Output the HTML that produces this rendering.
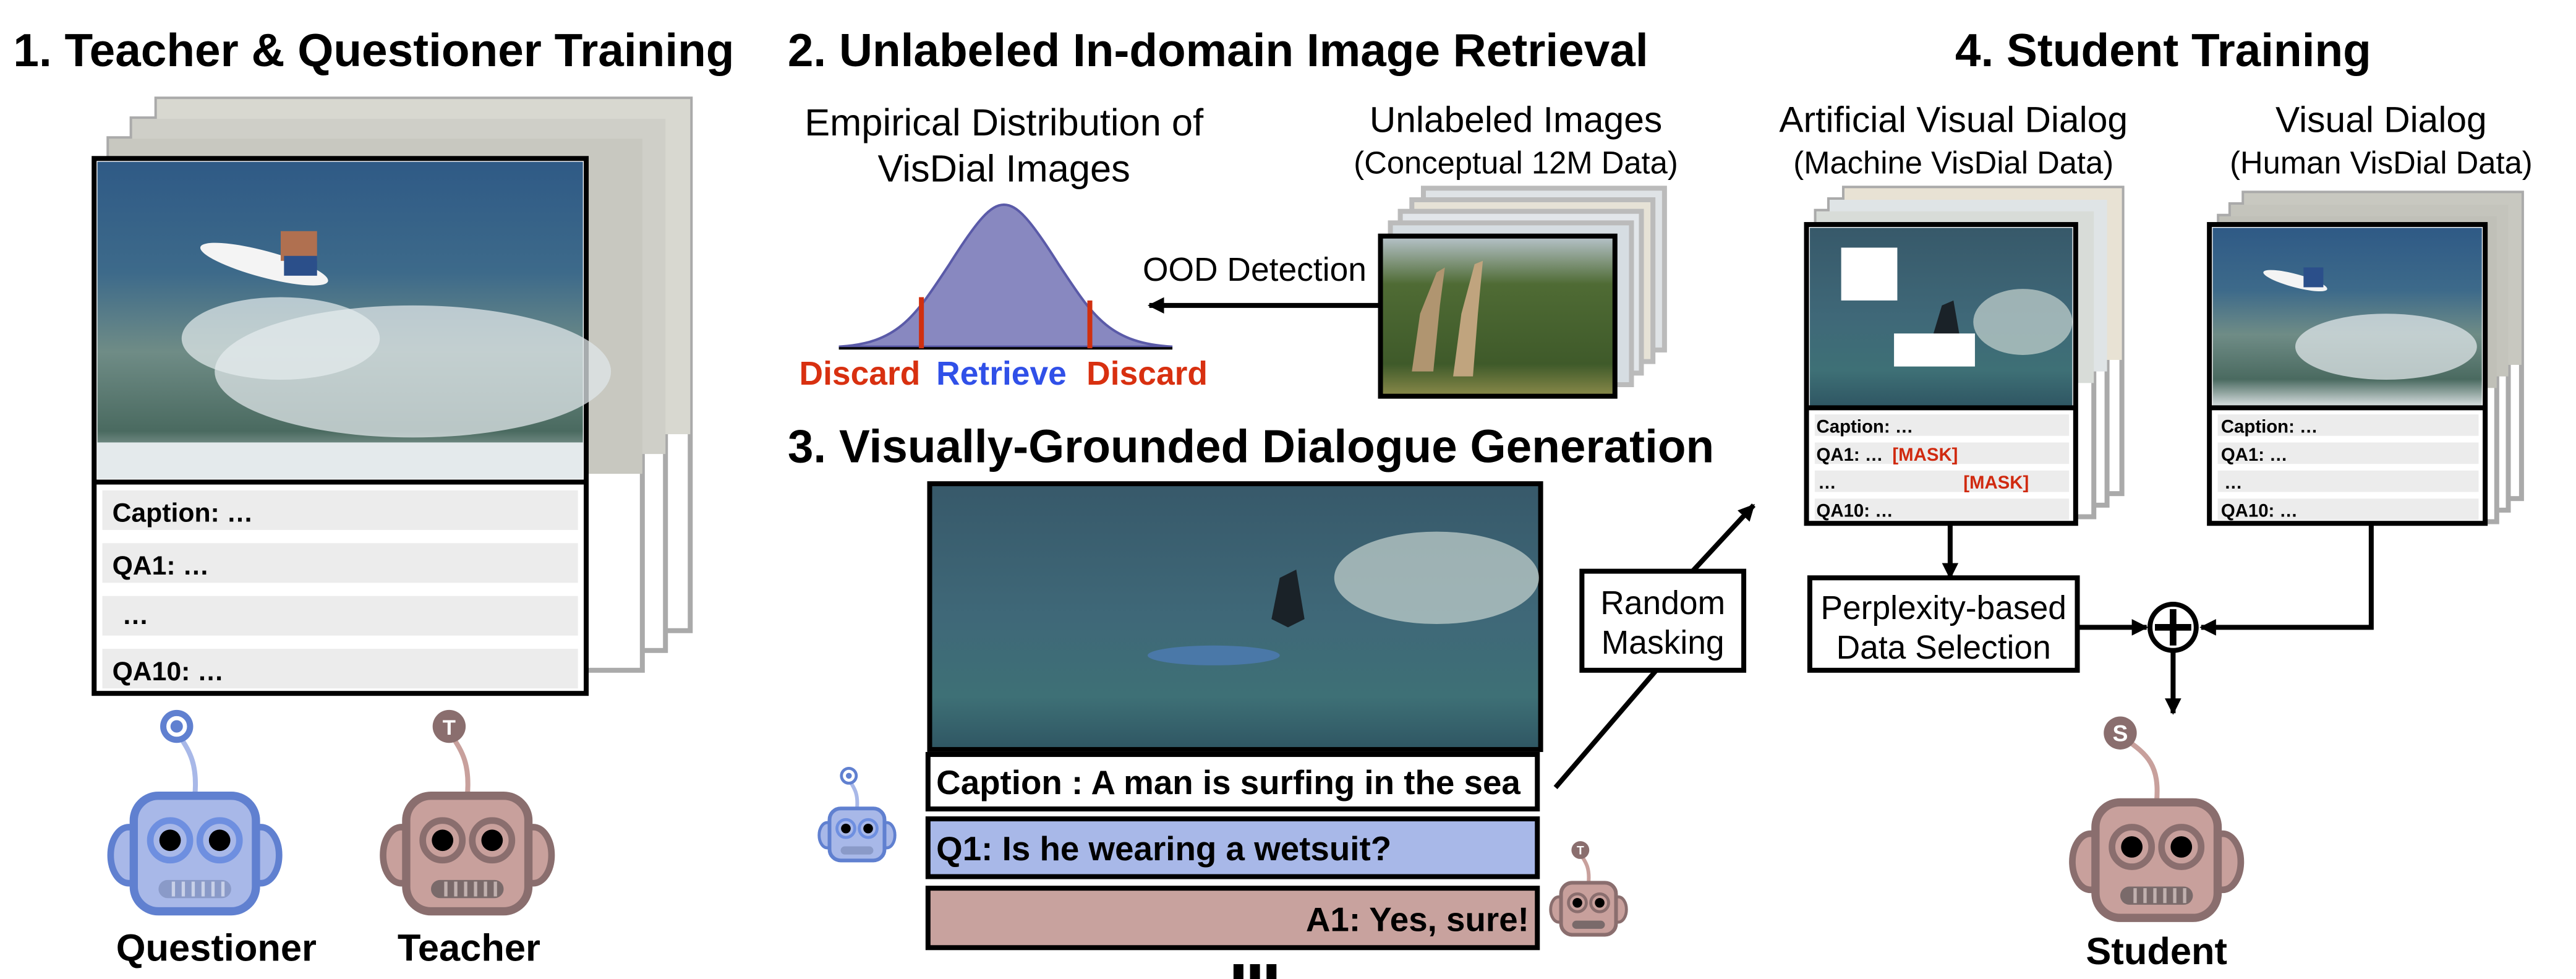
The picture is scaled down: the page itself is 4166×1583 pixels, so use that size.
<!DOCTYPE html>
<html><head><meta charset="utf-8"><style>
html,body{margin:0;padding:0;background:#fff;}
svg{display:block;}
text{font-family:"Liberation Sans",Arial,sans-serif;}
.b{font-weight:bold;}
</style></head><body>
<svg width="4166" height="1583" viewBox="0 0 1560 593" preserveAspectRatio="none" xmlns="http://www.w3.org/2000/svg">
<defs>
<linearGradient id="sea1" x1="0" y1="0" x2="0" y2="1">
<stop offset="0" stop-color="#2f5a86"/><stop offset="0.35" stop-color="#3d6a8a"/><stop offset="0.6" stop-color="#6f8c86"/><stop offset="0.85" stop-color="#4a6a60"/><stop offset="1" stop-color="#d8dfe0"/>
</linearGradient>
<linearGradient id="sea2" x1="0" y1="0" x2="0" y2="1">
<stop offset="0" stop-color="#37596a"/><stop offset="0.5" stop-color="#3f6878"/><stop offset="0.8" stop-color="#3e7076"/><stop offset="1" stop-color="#2f5663"/>
</linearGradient>
<linearGradient id="gir" x1="0" y1="0" x2="0" y2="1">
<stop offset="0" stop-color="#b8c4cc"/><stop offset="0.3" stop-color="#4f6b34"/><stop offset="0.8" stop-color="#3f5a2a"/><stop offset="1" stop-color="#8a8a4a"/>
</linearGradient>
<marker id="ah" markerWidth="10" markerHeight="10" refX="9" refY="5" orient="auto" markerUnits="userSpaceOnUse">
<path d="M0,0 L10,5 L0,10 z" fill="#000"/></marker>
<g id="robot">
<ellipse cx="-40" cy="2" rx="11" ry="17" stroke-width="4"/>
<ellipse cx="40" cy="2" rx="11" ry="17" stroke-width="4"/>
<rect x="-37" y="-34" width="74" height="70" rx="15" stroke-width="5"/>
</g>
</defs>

<!-- Section 1 -->
<text x="8" y="40" class="b" font-size="28">1. Teacher &amp; Questioner Training</text>
<rect x="95" y="60" width="323" height="322" fill="#fff" stroke="#aaa" stroke-width="3"/>
<rect x="80" y="72" width="323" height="322" fill="#fff" stroke="#aaa" stroke-width="3"/>
<rect x="66" y="84" width="323" height="322" fill="#fff" stroke="#aaa" stroke-width="3"/>
<rect x="95" y="60" width="323" height="203" fill="#d8d8d0"/>
<rect x="80" y="72" width="323" height="203" fill="#cfcfc8"/>
<rect x="66" y="84" width="323" height="203" fill="#c8c8c0"/>
<rect x="57" y="96" width="298" height="324" fill="#fff" stroke="#000" stroke-width="3"/>
<rect x="59" y="98" width="294" height="192" fill="url(#sea1)"/>
<ellipse cx="250" cy="225" rx="120" ry="40" fill="#dfe6e8" opacity="0.75"/>
<ellipse cx="170" cy="205" rx="60" ry="25" fill="#e6ecee" opacity="0.7"/>
<ellipse cx="160" cy="160" rx="40" ry="8" fill="#f4f4f4" transform="rotate(15 160 160)"/>
<rect x="170" y="140" width="22" height="18" fill="#b07050"/>
<rect x="172" y="155" width="20" height="12" fill="#2b4f8a"/>
<rect x="59" y="268" width="294" height="22" fill="#e4eaec"/>
<line x1="57" y1="292" x2="355" y2="292" stroke="#000" stroke-width="3"/>
<rect x="62" y="297" width="288" height="24" fill="#ececec"/>
<rect x="62" y="329" width="288" height="24" fill="#ececec"/>
<rect x="62" y="361" width="288" height="24" fill="#ececec"/>
<rect x="62" y="393" width="288" height="24" fill="#ececec"/>
<text x="68" y="316" class="b" font-size="16">Caption: …</text>
<text x="68" y="348" class="b" font-size="16">QA1: …</text>
<text x="74" y="378" class="b" font-size="16">…</text>
<text x="68" y="412" class="b" font-size="16">QA10: …</text>

<!-- Questioner robot -->
<g transform="translate(118,516)">
<path d="M0,-34 C2,-56 -5,-63 -11,-73" fill="none" stroke="#a8b8e8" stroke-width="3"/>
<circle cx="-11" cy="-76" r="10" fill="#6080d0"/><circle cx="-11" cy="-76" r="5" fill="none" stroke="#fff" stroke-width="2.5"/>
<use href="#robot" fill="#a8b8e8" stroke="#6080d0"/>
<circle cx="-15" cy="-7" r="12" fill="none" stroke="#6e8fe0" stroke-width="4"/><circle cx="-15" cy="-7" r="6.5" fill="#000"/>
<circle cx="15" cy="-7" r="12" fill="none" stroke="#6e8fe0" stroke-width="4"/><circle cx="15" cy="-7" r="6.5" fill="#000"/>
<rect x="-22" y="17" width="44" height="11" rx="5.5" fill="#8a9ac8"/>
<path d="M-13,18v9M-7,18v9M-1,18v9M5,18v9M11,18v9M17,18v9" stroke="#c8d0e8" stroke-width="2"/>
</g>
<text x="131" y="582" class="b" font-size="23" text-anchor="middle">Questioner</text>
<!-- Teacher robot -->
<g transform="translate(283,516)">
<path d="M0,-34 C2,-56 -5,-63 -11,-73" fill="none" stroke="#c8a09c" stroke-width="3"/>
<circle cx="-11" cy="-76" r="10" fill="#8a6e6e"/><text x="-11" y="-71" font-size="13" class="b" fill="#fff" text-anchor="middle">T</text>
<use href="#robot" fill="#c8a09c" stroke="#8a6e6e"/>
<circle cx="-15" cy="-7" r="12" fill="none" stroke="#8a6e6e" stroke-width="4"/><circle cx="-15" cy="-7" r="6.5" fill="#000"/>
<circle cx="15" cy="-7" r="12" fill="none" stroke="#8a6e6e" stroke-width="4"/><circle cx="15" cy="-7" r="6.5" fill="#000"/>
<rect x="-22" y="17" width="44" height="11" rx="5.5" fill="#7a6a6a"/>
<path d="M-13,18v9M-7,18v9M-1,18v9M5,18v9M11,18v9M17,18v9" stroke="#c0b0ae" stroke-width="2"/>
</g>
<text x="284" y="582" class="b" font-size="23" text-anchor="middle">Teacher</text>

<!-- Section 2 -->
<text x="477" y="40" class="b" font-size="28">2. Unlabeled In-domain Image Retrieval</text>
<text x="608" y="82" font-size="23" text-anchor="middle">Empirical Distribution of</text>
<text x="608" y="110" font-size="23" text-anchor="middle">VisDial Images</text>
<path d="M508,210 C545,208 555,190 575,160 C592,133 600,124 608,124 C616,124 624,133 641,160 C661,190 671,208 710,210 Z" fill="#8888c0" stroke="#5a5aa8" stroke-width="1.5"/>
<line x1="508" y1="211" x2="710" y2="211" stroke="#000" stroke-width="1.5"/>
<line x1="558" y1="180" x2="558" y2="211" stroke="#d03010" stroke-width="3"/>
<line x1="660" y1="182" x2="660" y2="211" stroke="#d03010" stroke-width="3"/>
<text x="484" y="233" class="b" font-size="20" fill="#d83010">Discard</text>
<text x="567" y="233" class="b" font-size="20" fill="#3050e8">Retrieve</text>
<text x="658" y="233" class="b" font-size="20" fill="#d83010">Discard</text>
<text x="692" y="170" font-size="20">OOD Detection</text>
<line x1="835" y1="185" x2="696" y2="185" stroke="#000" stroke-width="3" marker-end="url(#ah)"/>
<text x="918" y="80" font-size="22" text-anchor="middle">Unlabeled Images</text>
<text x="918" y="105" font-size="19" text-anchor="middle">(Conceptual 12M Data)</text>
<rect x="862" y="114" width="146" height="98" fill="#dfe3e6" stroke="#bbb" stroke-width="3"/>
<rect x="855" y="121" width="146" height="98" fill="#e6e2d6" stroke="#bbb" stroke-width="3"/>
<rect x="848" y="128" width="146" height="98" fill="#e2e6ea" stroke="#bbb" stroke-width="3"/>
<rect x="842" y="135" width="146" height="98" fill="#d6dde2" stroke="#bbb" stroke-width="3"/>
<rect x="836" y="143" width="142" height="97" fill="url(#gir)" stroke="#000" stroke-width="3"/>
<path d="M855,225 L860,190 L870,165 L875,162 L872,185 L868,225Z" fill="#b09570"/>
<path d="M880,228 L885,190 L893,160 L898,158 L895,190 L892,228Z" fill="#c0a47e"/>

<!-- Section 3 -->
<text x="477" y="280" class="b" font-size="28">3. Visually-Grounded Dialogue Generation</text>
<rect x="563" y="293" width="370" height="161" fill="url(#sea2)" stroke="#000" stroke-width="3"/>
<ellipse cx="870" cy="350" rx="62" ry="28" fill="#c8d4d0" opacity="0.7"/>
<path d="M770,375 L775,350 L785,345 L790,375 L780,380Z" fill="#1a2228"/>
<ellipse cx="735" cy="397" rx="40" ry="6" fill="#4a78a8"/>
<rect x="562" y="457" width="369" height="33" fill="#fff" stroke="#000" stroke-width="3"/>
<text x="567" y="481" class="b" font-size="20.5">Caption : A man is surfing in the sea</text>
<rect x="562" y="496" width="369" height="35" fill="#a8b8e8" stroke="#000" stroke-width="3"/>
<text x="567" y="521" class="b" font-size="20.5">Q1: Is he wearing a wetsuit?</text>
<rect x="562" y="538" width="369" height="36" fill="#c8a29e" stroke="#000" stroke-width="3"/>
<text x="926" y="564" class="b" font-size="20.5" text-anchor="end">A1: Yes, sure!</text>
<rect x="747" y="584" width="6" height="9" fill="#000"/><rect x="757" y="584" width="6" height="9" fill="#000"/><rect x="767" y="584" width="6" height="9" fill="#000"/>
<!-- small Q robot -->
<g transform="translate(519,505) scale(0.45)">
<path d="M0,-34 C2,-56 -5,-63 -11,-73" fill="none" stroke="#a8b8e8" stroke-width="5"/>
<circle cx="-11" cy="-78" r="12" fill="#6080d0"/><circle cx="-11" cy="-78" r="6" fill="none" stroke="#fff" stroke-width="4"/>
<use href="#robot" fill="#a8b8e8" stroke="#6080d0"/>
<circle cx="-15" cy="-7" r="12" fill="none" stroke="#6e8fe0" stroke-width="4"/><circle cx="-15" cy="-7" r="6.5" fill="#000"/>
<circle cx="15" cy="-7" r="12" fill="none" stroke="#6e8fe0" stroke-width="4"/><circle cx="15" cy="-7" r="6.5" fill="#000"/>
<rect x="-22" y="17" width="44" height="11" rx="5.5" fill="#8a9ac8"/>
</g>
<!-- small T robot -->
<g transform="translate(962,550) scale(0.45)">
<path d="M0,-34 C2,-56 -5,-63 -11,-73" fill="none" stroke="#c8a09c" stroke-width="5"/>
<circle cx="-11" cy="-78" r="12" fill="#8a6e6e"/><text x="-11" y="-72" font-size="16" class="b" fill="#fff" text-anchor="middle">T</text>
<use href="#robot" fill="#c8a09c" stroke="#8a6e6e"/>
<circle cx="-15" cy="-7" r="12" fill="none" stroke="#8a6e6e" stroke-width="4"/><circle cx="-15" cy="-7" r="6.5" fill="#000"/>
<circle cx="15" cy="-7" r="12" fill="none" stroke="#8a6e6e" stroke-width="4"/><circle cx="15" cy="-7" r="6.5" fill="#000"/>
<rect x="-22" y="17" width="44" height="11" rx="5.5" fill="#7a6a6a"/>
</g>
<!-- Random masking -->
<line x1="942" y1="477" x2="1003" y2="406" stroke="#000" stroke-width="3"/>
<line x1="1025" y1="346" x2="1062" y2="306" stroke="#000" stroke-width="3" marker-end="url(#ah)"/>
<rect x="958" y="346" width="98" height="60" fill="#fff" stroke="#000" stroke-width="3"/>
<text x="1007" y="372" font-size="20" text-anchor="middle">Random</text>
<text x="1007" y="396" font-size="20" text-anchor="middle">Masking</text>

<!-- Section 4 -->
<text x="1310" y="40" class="b" font-size="28" text-anchor="middle">4. Student Training</text>
<text x="1183" y="80" font-size="22" text-anchor="middle">Artificial Visual Dialog</text>
<text x="1183" y="105" font-size="19" text-anchor="middle">(Machine VisDial Data)</text>
<text x="1442" y="80" font-size="22" text-anchor="middle">Visual Dialog</text>
<text x="1442" y="105" font-size="19" text-anchor="middle">(Human VisDial Data)</text>
<!-- left stack -->
<rect x="1117" y="114" width="168" height="185" fill="#fff" stroke="#aaa" stroke-width="3"/>
<rect x="1108" y="121" width="168" height="185" fill="#fff" stroke="#aaa" stroke-width="3"/>
<rect x="1100" y="128" width="168" height="185" fill="#fff" stroke="#aaa" stroke-width="3"/>
<rect x="1117" y="114" width="168" height="104" fill="#e8e2d4"/>
<rect x="1108" y="121" width="168" height="104" fill="#dfe4e6"/>
<rect x="1100" y="128" width="168" height="104" fill="#d8dcd8"/>
<rect x="1094" y="136" width="163" height="181" fill="#fff" stroke="#000" stroke-width="3"/>
<rect x="1096" y="138" width="159" height="108" fill="url(#sea2)"/>
<ellipse cx="1225" cy="195" rx="30" ry="20" fill="#c8d4d0" opacity="0.7"/>
<path d="M1170,205 L1176,185 L1183,182 L1187,205Z" fill="#1a2228"/>
<rect x="1115" y="150" width="34" height="32" fill="#fff"/>
<rect x="1147" y="202" width="49" height="20" fill="#fff"/>
<line x1="1094" y1="247" x2="1257" y2="247" stroke="#000" stroke-width="3"/>
<rect x="1099" y="251" width="154" height="13" fill="#ececec"/>
<rect x="1099" y="268" width="154" height="13" fill="#ececec"/>
<rect x="1099" y="285" width="154" height="13" fill="#ececec"/>
<rect x="1099" y="302" width="154" height="13" fill="#ececec"/>
<text x="1100" y="262" class="b" font-size="11">Caption: …</text>
<text x="1100" y="279" class="b" font-size="11">QA1: …</text>
<text x="1146" y="279" class="b" font-size="11" fill="#d02a10">[MASK]</text>
<text x="1101" y="296" class="b" font-size="11">…</text>
<text x="1189" y="296" class="b" font-size="11" fill="#d02a10">[MASK]</text>
<text x="1100" y="313" class="b" font-size="11">QA10: …</text>
<!-- right stack -->
<rect x="1359" y="117" width="168" height="185" fill="#fff" stroke="#aaa" stroke-width="3"/>
<rect x="1351" y="124" width="168" height="185" fill="#fff" stroke="#aaa" stroke-width="3"/>
<rect x="1344" y="131" width="168" height="185" fill="#fff" stroke="#aaa" stroke-width="3"/>
<rect x="1359" y="117" width="168" height="104" fill="#c8c8c0"/>
<rect x="1351" y="124" width="168" height="104" fill="#c4c4bc"/>
<rect x="1344" y="131" width="168" height="104" fill="#c0c0b8"/>
<rect x="1338" y="136" width="167" height="181" fill="#fff" stroke="#000" stroke-width="3"/>
<rect x="1340" y="138" width="163" height="108" fill="url(#sea1)"/>
<ellipse cx="1445" cy="210" rx="55" ry="20" fill="#dfe6e8" opacity="0.75"/>
<ellipse cx="1390" cy="170" rx="20" ry="4" fill="#f4f4f4" transform="rotate(15 1390 170)"/>
<rect x="1395" y="162" width="12" height="12" fill="#2b4f8a"/>
<line x1="1338" y1="247" x2="1505" y2="247" stroke="#000" stroke-width="3"/>
<rect x="1343" y="251" width="158" height="13" fill="#ececec"/>
<rect x="1343" y="268" width="158" height="13" fill="#ececec"/>
<rect x="1343" y="285" width="158" height="13" fill="#ececec"/>
<rect x="1343" y="302" width="158" height="13" fill="#ececec"/>
<text x="1345" y="262" class="b" font-size="11">Caption: …</text>
<text x="1345" y="279" class="b" font-size="11">QA1: …</text>
<text x="1347" y="296" class="b" font-size="11">…</text>
<text x="1345" y="313" class="b" font-size="11">QA10: …</text>
<!-- connectors -->
<line x1="1181" y1="318" x2="1181" y2="350" stroke="#000" stroke-width="3" marker-end="url(#ah)"/>
<rect x="1096" y="350" width="162" height="56" fill="#fff" stroke="#000" stroke-width="3"/>
<text x="1177" y="375" font-size="20" text-anchor="middle">Perplexity-based</text>
<text x="1177" y="399" font-size="20" text-anchor="middle">Data Selection</text>
<line x1="1258" y1="380" x2="1300" y2="380" stroke="#000" stroke-width="3" marker-end="url(#ah)"/>
<polyline points="1436,318 1436,380 1333,380" fill="none" stroke="#000" stroke-width="3" marker-end="url(#ah)"/>
<circle cx="1316" cy="380" r="14" fill="#fff" stroke="#000" stroke-width="3"/>
<path d="M1316,369 V391 M1305,380 H1327" stroke="#000" stroke-width="4"/>
<line x1="1316" y1="394" x2="1316" y2="432" stroke="#000" stroke-width="3" marker-end="url(#ah)"/>
<!-- Student robot -->
<g transform="translate(1306,520)">
<path d="M0,-34 C2,-56 -5,-63 -20,-73" fill="none" stroke="#c8a09c" stroke-width="3"/>
<circle cx="-22" cy="-76" r="10" fill="#8a6e6e"/><text x="-22" y="-71" font-size="14" class="b" fill="#fff" text-anchor="middle">S</text>
<use href="#robot" fill="#c8a09c" stroke="#8a6e6e"/>
<circle cx="-15" cy="-7" r="12" fill="none" stroke="#8a6e6e" stroke-width="4"/><circle cx="-15" cy="-7" r="6.5" fill="#000"/>
<circle cx="15" cy="-7" r="12" fill="none" stroke="#8a6e6e" stroke-width="4"/><circle cx="15" cy="-7" r="6.5" fill="#000"/>
<rect x="-22" y="17" width="44" height="11" rx="5.5" fill="#7a6a6a"/>
<path d="M-13,18v9M-7,18v9M-1,18v9M5,18v9M11,18v9M17,18v9" stroke="#c0b0ae" stroke-width="2"/>
</g>
<text x="1306" y="584" class="b" font-size="23" text-anchor="middle">Student</text>
</svg>
</body></html>
